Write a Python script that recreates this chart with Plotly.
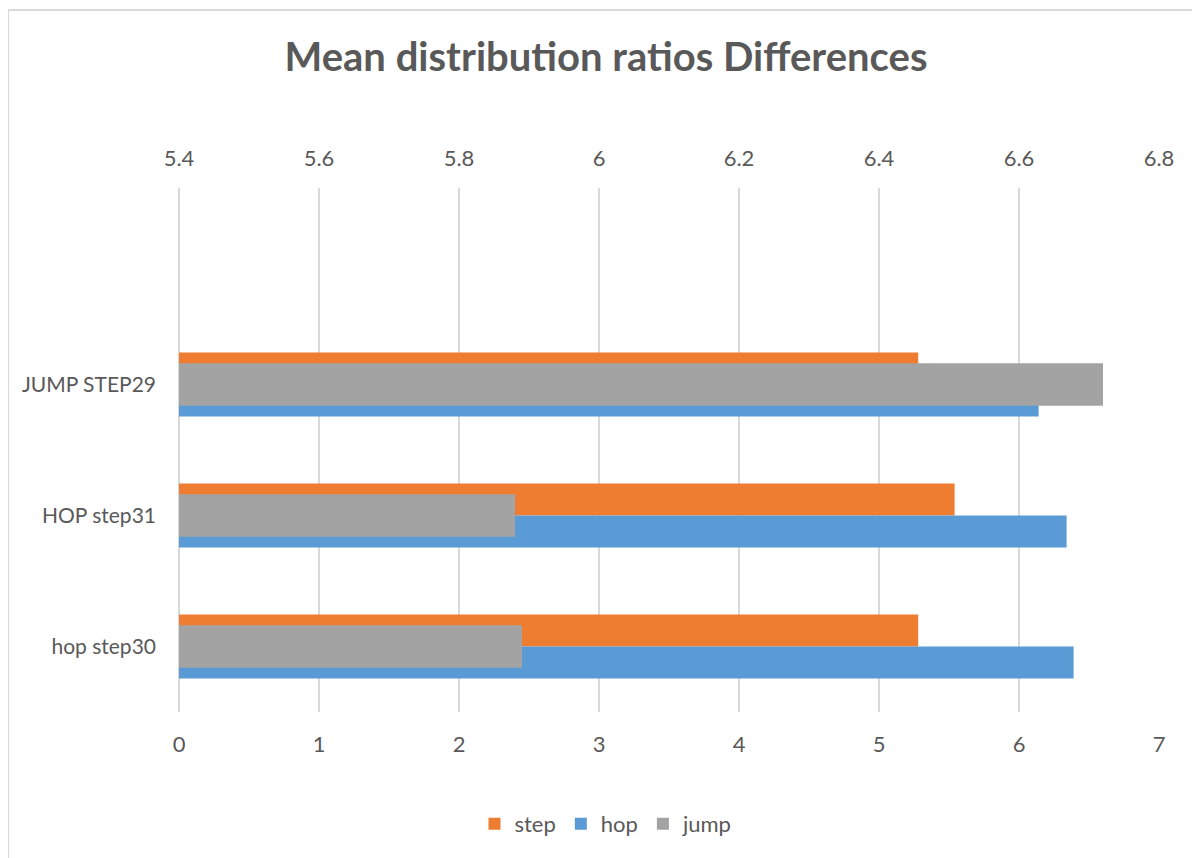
import plotly.graph_objects as go

categories = ["hop step30", "HOP step31", "JUMP STEP29"]
step_values = [5.28, 5.54, 5.28]
hop_values = [6.39, 6.34, 6.14]
jump_values = [5.89, 5.88, 6.72]  # plotted on secondary (top) axis

bottom_ticks = [0, 1, 2, 3, 4, 5, 6, 7]
top_ticks = [5.4, 5.6, 5.8, 6.0, 6.2, 6.4, 6.6, 6.8]
top_tick_labels = ["5.4", "5.6", "5.8", "6", "6.2", "6.4", "6.6", "6.8"]

FONT = "Lato"
TXT = "#595959"
GRID = "#D9D9D9"

# page body has an 8px margin; work in screen pixels and convert
OFF = 8
W, H = 1200 - OFF, 858 - OFF
PL, PR, PT, PB = 179, 1159, 188, 712  # plot area in screen pixels
L, R, T, B = PL - OFF, (OFF + W) - PR, PT - OFF, (OFF + H) - PB
pw, ph = PR - PL, PB - PT

def px_x(p):
    return (p - PL) / pw

def px_y(p):
    return (PB - p) / ph

fig = go.Figure()
fig.add_trace(go.Bar(
    name="step", y=categories, x=step_values, orientation="h",
    marker=dict(color="#EE7D31", line=dict(width=0)),
    width=0.244, offset=0.0, xaxis="x", yaxis="y",
))
fig.add_trace(go.Bar(
    name="hop", y=categories, x=hop_values, orientation="h",
    marker=dict(color="#5A9BD5", line=dict(width=0)),
    width=0.244, offset=-0.244, xaxis="x", yaxis="y",
))
fig.add_trace(go.Bar(
    name="jump", y=categories, x=jump_values, orientation="h",
    marker=dict(color="#A3A3A3", line=dict(width=0)),
    width=0.323, offset=-0.1615, xaxis="x2", yaxis="y",
))

fig.update_layout(
    width=W, height=H,
    margin=dict(l=L, r=R, t=T, b=B),
    paper_bgcolor="white", plot_bgcolor="white",
    barmode="overlay",
    font=dict(family=FONT, color=TXT, size=21),
    title=dict(
        text="<b>Mean distribution ratios Differences</b>",
        font=dict(family=FONT, size=40, color=TXT),
        x=(606 - OFF) / W, xanchor="center", xref="container",
        y=1 - (57 - OFF) / H, yanchor="middle", yref="container",
    ),
    xaxis=dict(
        range=[0, 7], tickvals=bottom_ticks, showgrid=True,
        gridcolor=GRID, gridwidth=2, zeroline=True, zerolinecolor=GRID,
        zerolinewidth=2, showline=False, ticks="", ticklabelstandoff=17,
        tickfont=dict(size=22, color=TXT), fixedrange=True,
    ),
    xaxis2=dict(
        range=[5.4, 6.8], tickvals=top_ticks, ticktext=top_tick_labels,
        overlaying="x", side="top", showgrid=False, zeroline=False,
        showline=False, ticks="", ticklabelstandoff=17,
        tickfont=dict(size=22, color=TXT),
    ),
    yaxis=dict(
        type="category", categoryorder="array", categoryarray=categories,
        range=[-0.5, 3.5], showgrid=False, zeroline=False, showline=False,
        ticks="", ticklabelstandoff=22, tickfont=dict(size=21, color=TXT),
    ),
    legend=dict(
        orientation="h", x=px_x(606), xanchor="center",
        y=px_y(824), yanchor="middle",
        font=dict(size=22, color=TXT), itemwidth=30,
        traceorder="normal",
    ),
    shapes=[dict(
        type="rect", xref="paper", yref="paper",
        x0=px_x(8), x1=px_x(1260), y0=px_y(900), y1=px_y(10),
        line=dict(color=GRID, width=2), fillcolor="rgba(0,0,0,0)", layer="below",
    )],
)

fig.write_html("out.html")
